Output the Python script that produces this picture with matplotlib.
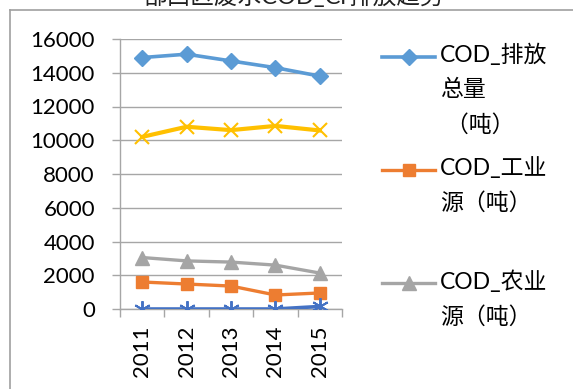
import matplotlib
matplotlib.use('Agg')
import matplotlib.pyplot as plt
from matplotlib.lines import Line2D

plt.rcParams['font.family'] = ['Lato', 'Noto Sans CJK SC', 'DejaVu Sans']

years = ['2011', '2012', '2013', '2014', '2015']
cod_total = [14900, 15100, 14700, 14300, 13800]
cod_industry = [1600, 1480, 1360, 830, 950]
cod_agri = [3050, 2850, 2780, 2600, 2130]
cod_yellow = [10200, 10800, 10600, 10850, 10580]
cod_other = [0, 0, 0, 0, 150]

title = '部西区废水COD_Cr排放趋势'
legend_labels = ['COD_排放\n总量\n （吨）', 'COD_工业\n源（吨）', 'COD_农业\n源（吨）']

grid_c = '#a6a6a6'
W, H = 573, 389

fig = plt.figure(figsize=(W / 100, H / 100), dpi=100)
ax = fig.add_axes([120 / W, (H - 309) / H, 222 / W, 270 / H])

x = list(range(len(years)))
s_total = dict(color='#5b9bd5', lw=2.6, marker='D', ms=8.5)
s_ind = dict(color='#ed7d31', lw=2.4, marker='s', ms=9)
s_agri = dict(color='#a5a5a5', lw=2.4, marker='^', ms=9.5)
ax.plot(x, cod_total, **s_total, zorder=4)
ax.plot(x, cod_industry, **s_ind, zorder=4)
ax.plot(x, cod_agri, **s_agri, zorder=4)
ax.plot(x, cod_yellow, color='#ffc000', lw=3, marker='x', ms=10, mew=1.5, zorder=4)
ax.plot(x, cod_other, color='#4472c4', lw=2.6, marker=(6, 2, 0), ms=12, mew=1.4, zorder=4)

ax.set_xlim(-0.5, 4.5)
ax.set_ylim(0, 16000)
ax.set_yticks(range(0, 16001, 2000))
ax.set_xticks(x)
ax.set_xticklabels(years, rotation=90, fontsize=16)
ax.set_xticks([i - 0.5 for i in range(6)], minor=True)
ax.tick_params(axis='x', which='major', length=0, pad=12)
ax.tick_params(axis='x', which='minor', length=6, color=grid_c, width=1)
ax.tick_params(axis='y', length=6, color=grid_c, width=1, labelsize=16, pad=12)
ax.yaxis.grid(True, color=grid_c, lw=1)
ax.set_axisbelow(True)
for sp in ['top', 'right']:
    ax.spines[sp].set_visible(False)
for sp in ['left', 'bottom']:
    ax.spines[sp].set_color(grid_c)
    ax.spines[sp].set_linewidth(1)

# legend (Excel style: each entry same height, handle at first line)
for i, (lab, st) in enumerate(zip(legend_labels, [s_total, s_ind, s_agri])):
    yc = 1 - (57 + 113 * i) / H
    fig.add_artist(Line2D([382 / W, 435 / W], [yc, yc], transform=fig.transFigure,
                          color=st['color'], lw=st['lw']))
    fig.add_artist(Line2D([408.5 / W], [yc], transform=fig.transFigure,
                          color=st['color'], marker=st['marker'], ms=st['ms'], ls='none'))
    fig.text(440 / W, yc + 13 / H, lab, fontsize=16.5, va='top', ha='left', linespacing=1.75)

# chart border and clipped title
fig.add_artist(Line2D([10 / W, 1], [1 - 10 / H, 1 - 10 / H], transform=fig.transFigure, color='#a0a0a0', lw=1.2))
fig.add_artist(Line2D([10 / W, 10 / W], [0, 1 - 10 / H], transform=fig.transFigure, color='#a0a0a0', lw=1.2))
fig.text(294 / W, 1 - 8 / H, title, fontsize=17, ha='center', va='bottom', color='#202020')

fig.savefig('out.png', dpi=100)
